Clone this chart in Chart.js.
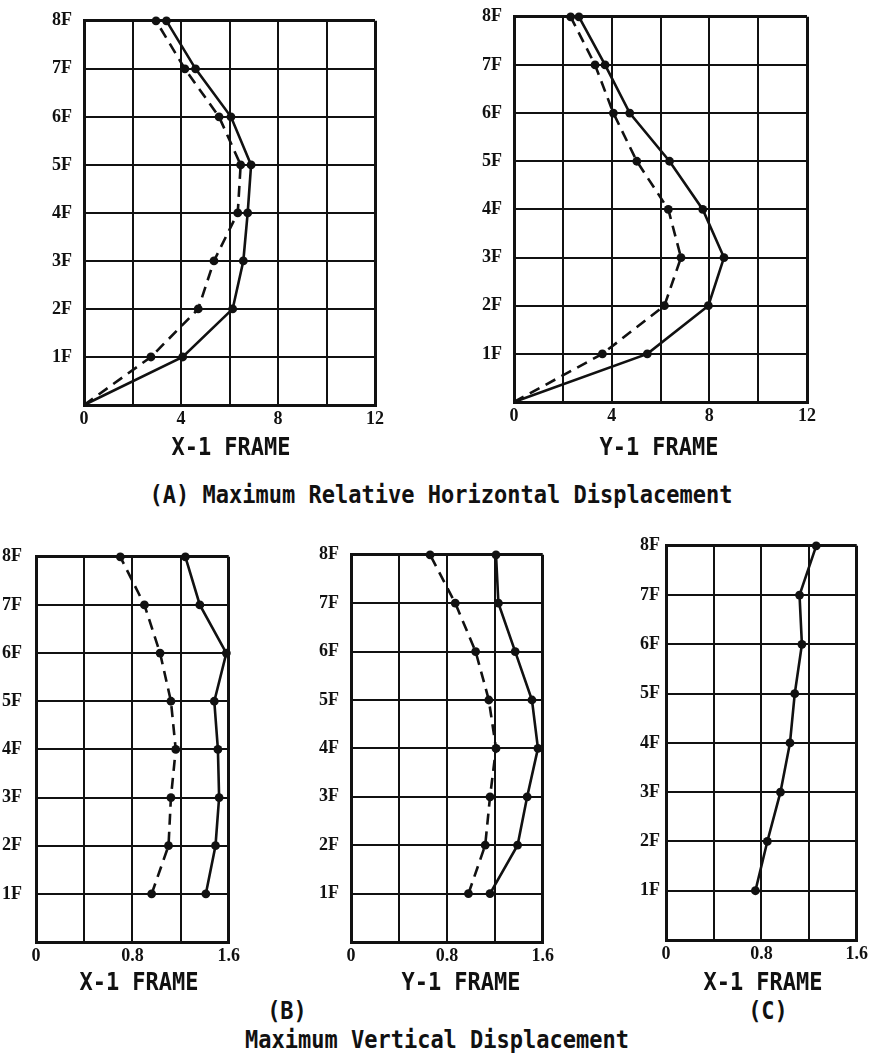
<!DOCTYPE html>
<html>
<head>
<meta charset="utf-8">
<script src="https://cdn.jsdelivr.net/npm/chart.js@4/dist/chart.umd.min.js"></script>
<style>
  html, body { margin: 0; padding: 0; background: #fff; }
  #page { position: relative; width: 872px; height: 1058px; overflow: hidden; background: #fff; }
  canvas { position: absolute; }
  .cap {
    position: absolute;
    font-family: "DejaVu Sans Mono", "Liberation Mono", monospace;
    font-size: 22px;
    font-weight: bold;
    color: #111;
    white-space: nowrap;
    transform: translate(-50%, -50%) scaleY(1.12);
  }
</style>
</head>
<body>
<div id="page">
  <canvas id="xHoriz"></canvas>
  <canvas id="yHoriz"></canvas>
  <canvas id="xVert"></canvas>
  <canvas id="yVert"></canvas>
  <canvas id="cVert"></canvas>

  <div class="cap" style="left:231px; top:447px;">X-1 FRAME</div>
  <div class="cap" style="left:659px; top:447px;">Y-1 FRAME</div>
  <div class="cap" style="left:441px; top:495px;">(A) Maximum Relative Horizontal Displacement</div>

  <div class="cap" style="left:139px; top:982px;">X-1 FRAME</div>
  <div class="cap" style="left:461px; top:982px;">Y-1 FRAME</div>
  <div class="cap" style="left:763px; top:982px;">X-1 FRAME</div>
  <div class="cap" style="left:287px; top:1011px;">(B)</div>
  <div class="cap" style="left:768px; top:1011px;">(C)</div>
  <div class="cap" style="left:437px; top:1040px;">Maximum Vertical Displacement</div>
</div>

<script>
// Story levels (0 = base) and their tick labels
const storyLevels = [0, 1, 2, 3, 4, 5, 6, 7, 8];
const upperStories = [1, 2, 3, 4, 5, 6, 7, 8];
const storyLabels = ['', '1F', '2F', '3F', '4F', '5F', '6F', '7F', '8F'];

// (A) maximum relative horizontal displacement, base to 8F
const xFrameHorizSolid  = [0, 4.07, 6.13, 6.57, 6.75, 6.89, 6.06, 4.60, 3.40];
const xFrameHorizDashed = [0, 2.76, 4.71, 5.36, 6.34, 6.46, 5.57, 4.16, 2.97];
const yFrameHorizSolid  = [0, 5.46, 7.96, 8.60, 7.73, 6.37, 4.74, 3.73, 2.66];
const yFrameHorizDashed = [0, 3.62, 6.16, 6.84, 6.32, 5.03, 4.07, 3.32, 2.32];

// (B) maximum vertical displacement, 1F to 8F
const xFrameVertSolid  = [1.41, 1.49, 1.52, 1.51, 1.48, 1.58, 1.36, 1.24];
const xFrameVertDashed = [0.96, 1.10, 1.12, 1.16, 1.12, 1.03, 0.90, 0.70];
const yFrameVertSolid  = [1.16, 1.39, 1.47, 1.56, 1.51, 1.37, 1.23, 1.21];
const yFrameVertDashed = [0.98, 1.12, 1.16, 1.21, 1.15, 1.04, 0.87, 0.66];

// (C) maximum vertical displacement, X-1 frame
const cFrameVert = [0.75, 0.85, 0.96, 1.04, 1.08, 1.14, 1.12, 1.26];

// Horizontal axis tick settings
const horizTicks = { max: 12, step: 2, labelled: [0, 4, 8, 12] };
const vertTicks  = { max: 1.6, step: 0.4, labelled: [0, 0.8, 1.6] };

const INK = '#111';
const tickFont = { family: '"Liberation Serif", "DejaVu Serif", serif', size: 18, weight: 'bold' };

function pointsOf(xs, ys) {
  return xs.map((x, i) => ({ x: x, y: ys[i] }));
}

function series(xs, ys, dashed) {
  return {
    data: pointsOf(xs, ys),
    showLine: true,
    borderColor: INK,
    backgroundColor: INK,
    borderWidth: 2.6,
    borderDash: dashed ? [11, 7] : [],
    pointRadius: ctx => (ctx.raw && ctx.raw.y === 0) ? 0 : 4.4,
    pointHoverRadius: 4.4,
    pointBackgroundColor: INK,
    pointBorderWidth: 0,
    tension: 0,
    clip: false
  };
}

function panel(id, area, axis, datasets, labelGap) {
  const padL = 62, padT = 12, padR = 15, padB = 34;
  const w = area.right - area.left, h = area.bottom - area.top;
  const cv = document.getElementById(id);
  cv.width = w + padL + padR;
  cv.height = h + padT + padB;
  cv.style.left = (area.left - padL) + 'px';
  cv.style.top = (area.top - padT) + 'px';

  const isEdge = (v, lo, hi) => Math.abs(v - lo) < 1e-6 || Math.abs(v - hi) < 1e-6;

  new Chart(cv, {
    type: 'scatter',
    data: { datasets: datasets },
    options: {
      responsive: false,
      animation: false,
      devicePixelRatio: 1,
      layout: { padding: { top: padT, right: padR, left: 0, bottom: 0 } },
      plugins: { legend: { display: false }, tooltip: { enabled: false } },
      scales: {
        x: {
          type: 'linear',
          min: 0,
          max: axis.max,
          afterFit: s => { s.height = padB; },
          afterBuildTicks: s => {
            const t = [];
            const n = Math.round(axis.max / axis.step);
            for (let i = 0; i <= n; i++) t.push({ value: +(i * axis.step).toFixed(4) });
            s.ticks = t;
          },
          ticks: {
            color: INK,
            font: tickFont,
            padding: 4,
            maxRotation: 0,
            autoSkip: false,
            callback: v => {
              const hit = axis.labelled.find(l => Math.abs(l - v) < 1e-6);
              if (hit === undefined) return '';
              return hit === 0 ? '0' : (Number.isInteger(hit) ? String(hit) : hit.toFixed(1));
            }
          },
          grid: {
            color: INK,
            drawTicks: false,
            lineWidth: c => isEdge(c.tick.value, 0, axis.max) ? 3 : 2
          },
          border: { display: true, color: INK, width: 3 }
        },
        y: {
          type: 'linear',
          min: 0,
          max: 8,
          afterFit: s => { s.width = padL; },
          afterBuildTicks: s => { s.ticks = storyLevels.map(v => ({ value: v })); },
          ticks: {
            color: INK,
            font: tickFont,
            padding: labelGap,
            autoSkip: false,
            callback: v => storyLabels[Math.round(v)] || ''
          },
          grid: {
            color: INK,
            drawTicks: false,
            lineWidth: c => isEdge(c.tick.value, 0, 8) ? 3 : 2
          },
          border: { display: true, color: INK, width: 3 }
        }
      }
    }
  });
}

panel('xHoriz', { left: 84, top: 10, right: 375, bottom: 405 }, horizTicks, [
  series(xFrameHorizSolid, storyLevels, false),
  series(xFrameHorizDashed, storyLevels, true)
], 12);

panel('yHoriz', { left: 514, top: 6, right: 807, bottom: 402 }, horizTicks, [
  series(yFrameHorizSolid, storyLevels, false),
  series(yFrameHorizDashed, storyLevels, true)
], 12);

panel('xVert', { left: 36, top: 544, right: 229, bottom: 942 }, vertTicks, [
  series(xFrameVertSolid, upperStories, false),
  series(xFrameVertDashed, upperStories, true)
], 14);

panel('yVert', { left: 351, top: 544, right: 543, bottom: 942 }, vertTicks, [
  series(yFrameVertSolid, upperStories, false),
  series(yFrameVertDashed, upperStories, true)
], 12);

panel('cVert', { left: 666, top: 541, right: 857, bottom: 940 }, vertTicks, [
  series(cFrameVert, upperStories, false)
], 6);
</script>
</body>
</html>
